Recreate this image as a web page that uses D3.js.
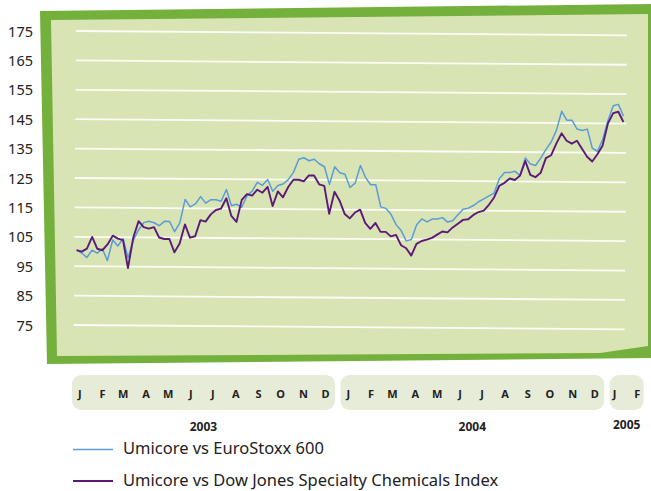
<!DOCTYPE html>
<html>
<head>
<meta charset="utf-8">
<script src="https://cdn.jsdelivr.net/npm/d3@7"></script>
<style>
  body { margin: 0; background: #fff; }
  svg { display: block; font-family: 'Noto Sans', sans-serif; }
</style>
</head>
<body>
<svg class="chart" width="651" height="491"></svg>
<script>
(function (w) {
  // weekly readings, first one on the monday below
  const firstWeek = '2003-01-13'
  const euroStoxx = [
    100.5, 99.5, 98, 100.5, 99.5, 101, 97, 104, 102, 104.5,
    98, 104, 107.5, 110, 110.5, 110, 109, 110.5, 110.5, 107,
    110, 118, 115.5, 116.5, 119, 116.8, 118, 118, 117.5, 121.5,
    116, 116.5, 115.5, 119.4, 121, 124, 123, 125, 121, 123,
    123.5, 125, 127.5, 132, 132.5, 131.5, 132, 130.5, 129.5, 123.5,
    129.5, 127.5, 127, 122.5, 124, 130, 126, 123.5, 123.5, 116,
    115.5, 113.5, 110, 108, 104.5, 105, 110, 112, 111, 112,
    112, 112.5, 111, 111.5, 113.5, 115.4, 115.8, 116.7, 118, 119,
    120, 121, 126, 128, 128, 128.5, 127, 133, 131, 130.5,
    133, 136, 138.5, 142.5, 149, 146, 146, 143, 142.5, 143,
    136.5, 135.5, 139.5, 146, 151, 151.5, 147.5
  ]
  const djChem = [
    100.5, 100, 101, 105, 101, 100.5, 102.5, 105.5, 104.5, 104,
    94.5, 105, 110.5, 108.5, 108, 108.5, 105, 104.5, 104.5, 100,
    103, 109.5, 105, 105.5, 111, 110.5, 113, 114.5, 115, 118.5,
    112.5, 110.5, 118, 120, 119.5, 121.5, 120.5, 122.5, 116, 121,
    119, 122.5, 125, 125, 124.5, 126.5, 126.5, 123.5, 123, 113.5,
    121, 118, 113.5, 112, 114, 115, 110.5, 108.5, 110.5, 107.5,
    107.5, 106, 106.5, 103, 102, 99.5, 103.5, 104.5, 105, 105.6,
    106.7, 107.8, 107.5, 109.2, 110.5, 111.8, 112, 113.5, 114.5, 115,
    117, 119.5, 123.5, 124.5, 126, 125.5, 127, 132, 127.3, 126.5,
    128, 133, 134, 138, 141.5, 139, 138, 139, 136.3, 133.6,
    132, 134.5, 137.5, 145, 148.5, 149, 145.5
  ]
  const yTicks = [175, 165, 155, 145, 135, 125, 115, 105, 95, 85, 75]
  const monthLetters = ['J', 'F', 'M', 'A', 'M', 'J', 'J', 'A', 'S', 'O', 'N', 'D']
  const years = [2003, 2004, 2005]
  const monthsPerYear = [12, 12, 2]
  const legendNames = ['Umicore vs EuroStoxx 600', 'Umicore vs Dow Jones Specialty Chemicals Index']

  const colors = { euro: '#5b9bd6', chem: '#5b1a78', frame: '#73b03c', paper: '#d9e4b5', pill: '#e6ecd8', text: '#222' }

  const svg = w.d3.select('.chart')
  const parse = w.d3.timeParse('%Y-%m-%d')
  const start = parse(firstWeek)
  const weeks = euroStoxx.map((d, i) => w.d3.timeWeek.offset(start, i))

  const x = w.d3.scaleTime()
    .domain([new Date(2003, 0, 1), new Date(2005, 2, 1)])
    .range([69.5, 650.6])
  const y = w.d3.scaleLinear()
    .domain([75, 175])
    .range([325, 31])

  // green frame, slightly skewed like a sheet of paper
  const poly = w.d3.line()
  svg.append('path')
    .attr('d', poly([[40, 11], [651, 4], [651, 358], [47, 364]]) + 'Z')
    .attr('fill', colors.frame)
  svg.append('path')
    .attr('d', poly([[51, 20], [648, 14], [648, 346], [600, 353], [57, 356]]) + 'Z')
    .attr('fill', colors.paper)

  // y labels
  svg.append('g').selectAll('text')
    .data(yTicks)
    .enter().append('text')
    .attr('x', 33)
    .attr('y', (d) => y(d) + 0.5)
    .attr('dy', '.35em')
    .attr('text-anchor', 'end')
    .attr('font-size', 14.5)
    .attr('fill', colors.text)
    .text((d) => d)

  const plot = svg.append('g')
    .attr('transform', 'rotate(0.45,75,31)')

  plot.append('g').selectAll('line')
    .data(yTicks)
    .enter().append('line')
    .attr('x1', 76)
    .attr('x2', 627)
    .attr('y1', (d) => y(d))
    .attr('y2', (d) => y(d))
    .attr('stroke', '#fbfcf5')
    .attr('stroke-width', 1.8)

  const line = (vals) => w.d3.line()
    .x((d, i) => x(weeks[i]))
    .y((d) => y(d))(vals)

  plot.append('path')
    .attr('d', line(euroStoxx))
    .attr('fill', 'none')
    .attr('stroke', colors.euro)
    .attr('stroke-width', 1.5)
    .attr('stroke-linejoin', 'round')
  plot.append('path')
    .attr('d', line(djChem))
    .attr('fill', 'none')
    .attr('stroke', colors.chem)
    .attr('stroke-width', 1.9)
    .attr('stroke-linejoin', 'round')

  // month pills
  const axis = svg.append('g')
  years.forEach((yr, k) => {
    const x0 = x(new Date(yr, 0, 1)) + 2.5
    const x1 = x(new Date(yr, monthsPerYear[k], 1)) - (k === 2 ? 7 : 3)
    axis.append('rect')
      .attr('x', x0)
      .attr('y', 375)
      .attr('width', x1 - x0)
      .attr('height', 35)
      .attr('rx', 9)
      .attr('fill', colors.pill)
    axis.selectAll('.m' + yr)
      .data(monthLetters.slice(0, monthsPerYear[k]))
      .enter().append('text')
      .attr('x', (d, i) => x(new Date(yr, i, 15)) - (k === 2 ? 3 : 0))
      .attr('y', 397.5)
      .attr('text-anchor', 'middle')
      .attr('font-size', 11)
      .attr('font-weight', 'bold')
      .attr('fill', colors.text)
      .text((d) => d)
    axis.append('text')
      .attr('x', (x0 + x1) / 2)
      .attr('y', k === 2 ? 429 : 431)
      .attr('text-anchor', 'middle')
      .attr('font-size', 12)
      .attr('font-weight', 'bold')
      .attr('fill', colors.text)
      .text(yr)
  })

  // legend
  const legend = svg.append('g').selectAll('g')
    .data(legendNames)
    .enter().append('g')
    .attr('transform', (d, i) => `translate(73,${449.5 + i * 31.5})`)
  legend.append('line')
    .attr('x2', 40)
    .attr('stroke', (d, i) => i === 0 ? colors.euro : colors.chem)
    .attr('stroke-width', (d, i) => i === 0 ? 1.4 : 1.8)
  legend.append('text')
    .attr('x', 50)
    .attr('y', 4.5)
    .attr('font-size', 16.5)
    .attr('fill', colors.text)
    .text((d) => d)
})(window)
</script>
</body>
</html>
